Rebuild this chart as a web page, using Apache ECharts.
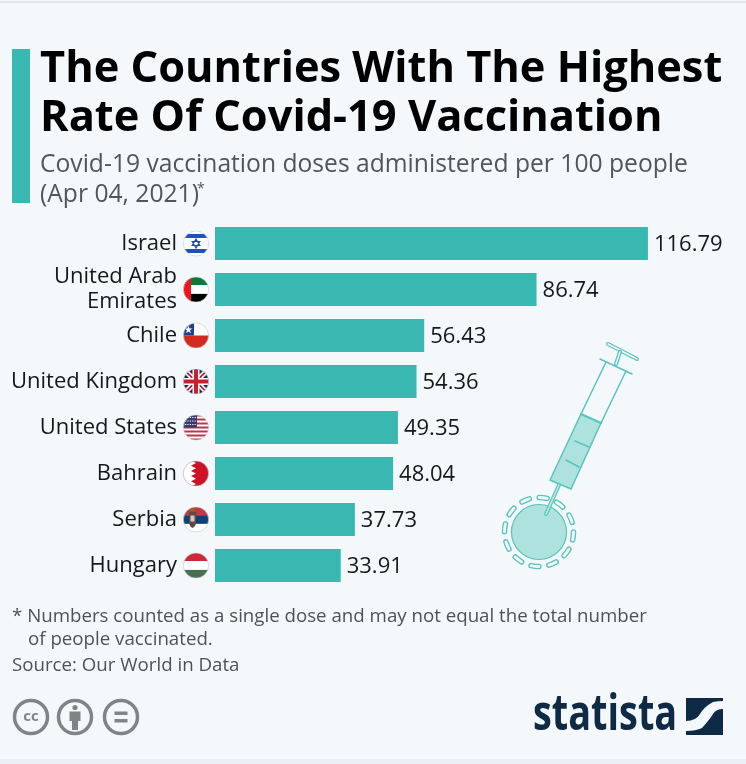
<!DOCTYPE html>
<html>
<head>
<meta charset="utf-8">
<style>
  html, body { margin: 0; padding: 0; background: #f4f8fb; }
  #chart { width: 746px; height: 764px; }
</style>
<script src="https://cdn.jsdelivr.net/npm/echarts@6/dist/echarts.min.js"></script>
</head>
<body>
<div id="chart"></div>
<script>
const countries = ["Israel", "United Arab\nEmirates", "Chile", "United Kingdom", "United States", "Bahrain", "Serbia", "Hungary"];
const doses = [116.79, 86.74, 56.43, 54.36, 49.35, 48.04, 37.73, 33.91];
const titleText = "The Countries With The Highest\nRate Of Covid-19 Vaccination";
const subtitleText = "Covid-19 vaccination doses administered per 100 people\n(Apr 04, 2021)";
const noteLines = ["* Numbers counted as a single dose and may not equal the total number", "of people vaccinated.", "Source: Our World in Data"];

const font = "Open Sans";
const teal = "#39b8b2";
const paper = "#f4f8fb";

const flagParts = [
  // Israel
  '<rect width="26" height="26" fill="#fff"/><rect y="3.5" width="26" height="4" fill="#1f4fc0"/><rect y="18.5" width="26" height="4" fill="#1f4fc0"/><path d="M13 8.5l3.8 6.5H9.200zM13 17.500l-3.800-6.500h7.600z" fill="none" stroke="#1f4fc0" stroke-width="1.200"/>',
  // UAE
  '<rect width="26" height="8.700" fill="#0b7a3b"/><rect y="8.700" width="26" height="8.700" fill="#fff"/><rect y="17.400" width="26" height="8.600" fill="#000"/><rect width="8" height="26" fill="#f0141e"/>',
  // Chile
  '<rect width="26" height="13" fill="#fff"/><rect y="13" width="26" height="13" fill="#d52b1e"/><rect width="11" height="13" fill="#1c3f94"/><path d="M5.500 3l1 3h3l-2.500 1.800 1 3-2.500-1.900-2.500 1.900 1-3-2.500-1.800h3z" fill="#fff"/>',
  // United Kingdom
  '<rect width="26" height="26" fill="#1b2a6b"/><path d="M0 0L26 26M26 0L0 26" stroke="#fff" stroke-width="5"/><path d="M0 0L26 26M26 0L0 26" stroke="#c8202f" stroke-width="1.800"/><path d="M13 0V26M0 13H26" stroke="#fff" stroke-width="7"/><path d="M13 0V26M0 13H26" stroke="#c8202f" stroke-width="4"/>',
  // United States
  '<rect width="26" height="26" fill="#fff"/><path d="M0 1H26M0 5H26M0 9H26M0 13H26M0 17H26M0 21H26M0 25H26" stroke="#b8364a" stroke-width="2"/><rect width="14" height="13" fill="#3c3b6e"/><path d="M2 3H13M2 6.500H13M2 10H13" stroke="#fff" stroke-width="1.200" stroke-dasharray="1.200 1.200"/>',
  // Bahrain
  '<rect width="26" height="26" fill="#ce1126"/><path d="M0 0H8L13 2.600 8 5.200 13 7.800 8 10.400 13 13 8 15.600 13 18.200 8 20.800 13 23.400 8 26H0z" fill="#fff"/>',
  // Serbia
  '<rect width="26" height="8.700" fill="#c6363c"/><rect y="8.700" width="26" height="8.700" fill="#0c4076"/><rect y="17.400" width="26" height="8.600" fill="#fff"/><path d="M6 5H13V15Q13 20 9.500 21.500 6 20 6 15z" fill="#5d4a44"/><path d="M7.500 9H11.500V15H7.500z" fill="#d8c8b8"/><path d="M7.500 2.500H11.500V5H7.500z" fill="#8a6a3c"/>',
  // Hungary
  '<rect width="26" height="8.700" fill="#ce2939"/><rect y="8.700" width="26" height="8.700" fill="#fff"/><rect y="17.400" width="26" height="8.600" fill="#477050"/>'
];

function svgUri(width, height, body) {
  const svg = '<svg xmlns="http://www.w3.org/2000/svg" width="' + width + '" height="' + height + '" viewBox="0 0 ' + width + ' ' + height + '">' + body + '</svg>';
  return "data:image/svg+xml;charset=utf-8," + encodeURIComponent(svg);
}

const flagImages = flagParts.map((part) => svgUri(26, 26,
  '<defs><clipPath id="c"><circle cx="13" cy="13" r="12.600"/></clipPath></defs><g clip-path="url(#c)">' + part +
  '</g><circle cx="13" cy="13" r="12.600" fill="none" stroke="#c9cdd2" stroke-width="0.700"/>'));

// page coordinates shifted by 490,335
const syringe = svgUri(160, 240, `
  <path d="M91 79L111 88L81 154L60 145z" fill="#aee2de"/>
  <g fill="none" stroke="#58c4be" stroke-linecap="round">
    <path d="M116 27L91 79L60 145L81 154L111 88L136 36" stroke-width="1.500"/>
    <path d="M110 24L142 39" stroke-width="1.500"/>
    <path d="M91 79L111 88" stroke-width="2"/>
    <path d="M85 106L99 112M76 125L89 132" stroke-width="1.500"/>
    <path d="M118 9L147 24" stroke-width="4"/><path d="M118 9L147 24" stroke="${paper}" stroke-width="1.600"/>
    <path d="M130 17L126 29" stroke-width="4"/><path d="M130 17L126 29" stroke="${paper}" stroke-width="1.400"/>
  </g>
  <circle cx="49" cy="197" r="27.500" fill="#aee2de" stroke="#58c4be" stroke-width="1.200"/>
  <path d="M69 150L56 179" stroke="#58c4be" stroke-width="4" stroke-linecap="round"/>
  <path d="M69 150L56 179" stroke="#bfe8e4" stroke-width="1.600" stroke-linecap="round"/>
  <circle cx="49" cy="197" r="34.500" fill="none" stroke="#58c4be" stroke-width="5.500" stroke-dasharray="8 10.060" stroke-linecap="round"/>
  <circle cx="49" cy="197" r="34.500" fill="none" stroke="${paper}" stroke-width="2.800" stroke-dasharray="8 10.060" stroke-linecap="round"/>`);

const licenceIcons = svgUri(130, 40, `
  <g fill="none" stroke="#7f8484" stroke-width="3.500">
    <circle cx="19" cy="20" r="16.500"/><circle cx="63" cy="20" r="16.500"/><circle cx="109" cy="20" r="16.500"/>
  </g>
  <g fill="#7f8484">
    <circle cx="63" cy="10.500" r="2.600"/><path d="M57.500 14.500H68.500V24H66V33H60V24H57.500z"/>
    <rect x="102.500" y="14.500" width="13" height="3.500"/><rect x="102.500" y="22" width="13" height="3.500"/>
  </g>`);

const logoMark = svgUri(37, 37, `
  <rect width="37" height="37" fill="#0f2a44"/>
  <path d="M0 23Q10 23 14 16T27 4Q32 3 37 3V11Q30 11 27 16T16 30Q10 33 0 33z" fill="${paper}"/>`);

function noteText(text, x, y) {
  return { type: "text", x, y, style: { text, font: "18.700px '" + font + "'", fill: "#4c5357", textVerticalAlign: "middle" } };
}

const chart = echarts.init(document.getElementById("chart"), null, { renderer: "canvas" });

chart.setOption({
  animation: false,
  backgroundColor: paper,
  grid: { left: 215, top: 220.5, width: 519, height: 368 },
  xAxis: { type: "value", min: 0, max: 140, show: false },
  yAxis: {
    type: "category",
    inverse: true,
    data: countries,
    axisLine: { show: false },
    axisTick: { show: false },
    axisLabel: { margin: 38, fontFamily: font, fontSize: 22, lineHeight: 25, color: "#16191b", align: "right", padding: [2, 0, 0, 0] }
  },
  series: [
    {
      type: "bar",
      data: doses,
      barWidth: 33,
      itemStyle: { color: teal },
      label: {
        show: true,
        position: "right",
        distance: 6,
        offset: [0, 1],
        fontFamily: font,
        fontSize: 22,
        color: "#16191b",
        formatter: (p) => p.value.toFixed(2)
      }
    },
    {
      type: "custom",
      silent: true,
      data: countries.map((c, i) => [0, i]),
      encode: { x: 0, y: 1 },
      renderItem: (params, api) => {
        const point = api.coord([0, api.value(1)]);
        return {
          type: "image",
          style: { image: flagImages[params.dataIndex], x: point[0] - 32, y: point[1] - 13, width: 26, height: 26 }
        };
      }
    }
  ],
  graphic: [
    { type: "rect", shape: { x: 0, y: 1, width: 746, height: 2 }, style: { fill: "#e4e6e9" } },
    { type: "rect", shape: { x: 0, y: 759, width: 746, height: 5 }, style: { fill: "#ebf0f6" } },
    { type: "rect", shape: { x: 12, y: 49, width: 18, height: 154 }, style: { fill: teal } },
    { type: "text", x: 40, y: 45, style: { text: titleText, font: "bold 43.400px '" + font + "'", lineHeight: 49, fill: "#000" } },
    { type: "text", x: 40, y: 150, style: { text: subtitleText, font: "24.650px '" + font + "'", lineHeight: 30, fill: "#50565a" } },
    { type: "text", x: 197, y: 182, style: { text: "*", font: "14px '" + font + "'", fill: "#50565a" } },
    noteText(noteLines[0], 12, 617),
    noteText(noteLines[1], 28, 640),
    noteText(noteLines[2], 12, 666),
    { type: "image", style: { image: syringe, x: 490, y: 335, width: 160, height: 240 } },
    { type: "image", style: { image: licenceIcons, x: 12, y: 697, width: 130, height: 40 } },
    { type: "text", x: 533, y: 716, scaleX: 0.757, style: { text: "statista", font: "bold 50px '" + font + "'", fill: "#0f2a44", textVerticalAlign: "middle" } },
    { type: "text", x: 31, y: 717, style: { text: "cc", font: "bold 15px '" + font + "'", fill: "#7f8484", textAlign: "center", textVerticalAlign: "middle" } },
    { type: "image", style: { image: logoMark, x: 686, y: 698, width: 37, height: 37 } }
  ]
});

window.addEventListener("resize", () => chart.resize());
</script>
</body>
</html>
